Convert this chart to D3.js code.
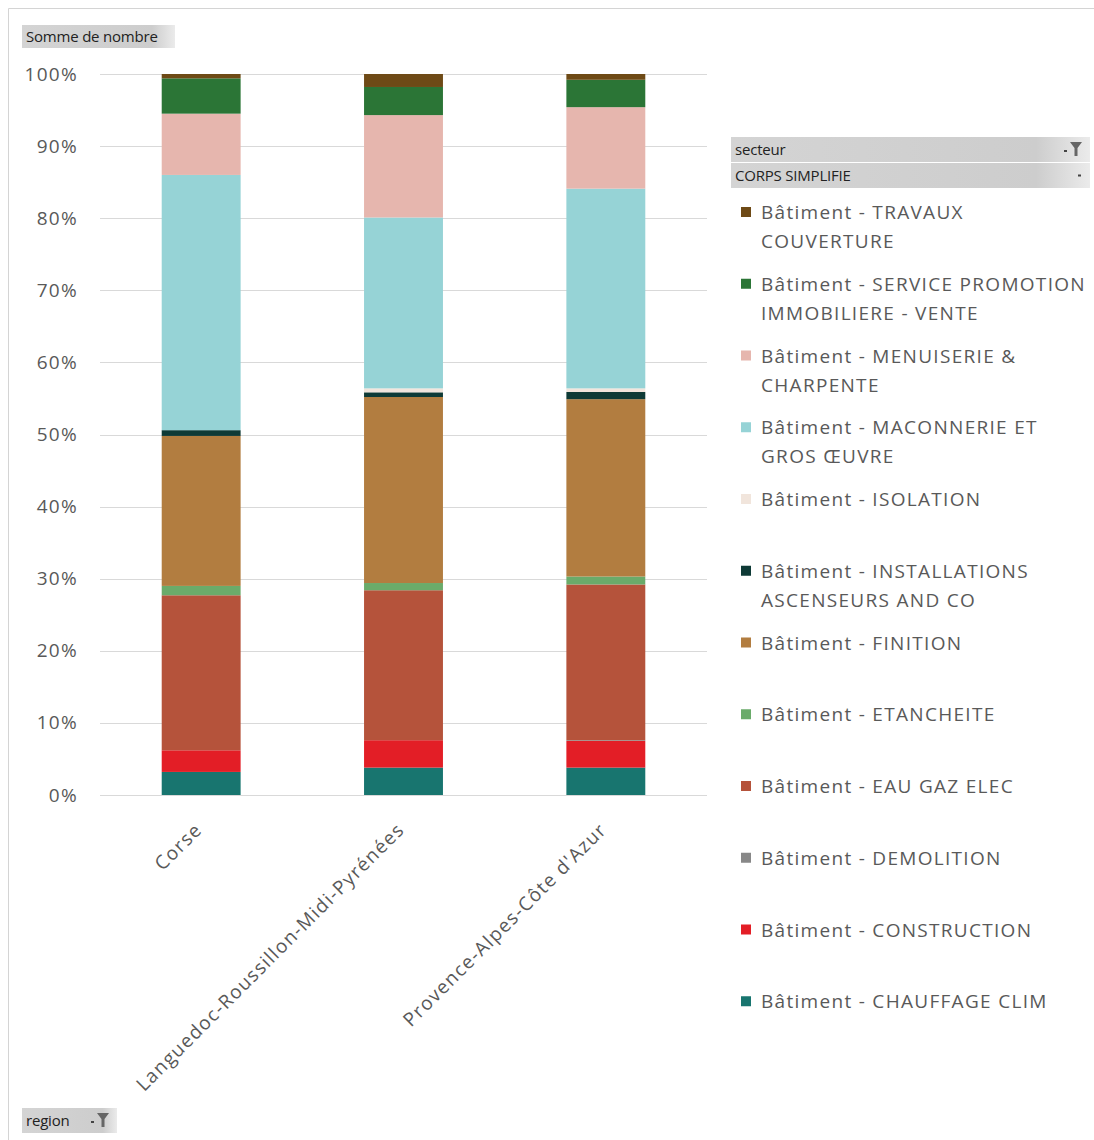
<!DOCTYPE html>
<html><head><meta charset="utf-8">
<script src="https://cdn.jsdelivr.net/npm/d3@7"></script>
<style>
body{margin:0;background:#fff;}
svg{display:block;font-family:"Open Sans",sans-serif;}
</style></head>
<body><svg id="c" width="1094" height="1140"></svg>
<script>
const regions = ["Corse", "Languedoc-Roussillon-Midi-Pyrénées", "Provence-Alpes-Côte d'Azur"];
// series in stacking order (bottom -> top), values in % per region
const seriesKeys = ["chauffage","construction","demolition","eauGaz","etancheite","finition","installations","isolation","maconnerie","menuiserie","service","travaux"];
const chauffage     = [3.2, 3.8, 3.8];
const construction  = [3.0, 3.8, 3.7];
const demolition    = [0.0, 0.0, 0.1];
const eauGaz        = [21.5, 20.8, 21.6];
const etancheite    = [1.3, 1.0, 1.1];
const finition      = [20.8, 25.8, 24.6];
const installations = [0.8, 0.65, 1.0];
const isolation     = [0.0, 0.55, 0.5];
const maconnerie    = [35.4, 23.7, 27.7];
const menuiserie    = [8.5, 14.2, 11.3];
const service       = [4.9, 3.9, 3.8];
const travaux       = [0.6, 1.8, 0.8];
const seriesLabels = {
  travaux: ["Bâtiment - TRAVAUX", "COUVERTURE"],
  service: ["Bâtiment - SERVICE PROMOTION", "IMMOBILIERE - VENTE"],
  menuiserie: ["Bâtiment - MENUISERIE &", "CHARPENTE"],
  maconnerie: ["Bâtiment - MACONNERIE ET", "GROS ŒUVRE"],
  isolation: ["Bâtiment - ISOLATION"],
  installations: ["Bâtiment - INSTALLATIONS", "ASCENSEURS AND CO"],
  finition: ["Bâtiment - FINITION"],
  etancheite: ["Bâtiment - ETANCHEITE"],
  eauGaz: ["Bâtiment - EAU GAZ ELEC"],
  demolition: ["Bâtiment - DEMOLITION"],
  construction: ["Bâtiment - CONSTRUCTION"],
  chauffage: ["Bâtiment - CHAUFFAGE CLIM"]
};
const colors = {
  chauffage:"#18756f", construction:"#e31e26", demolition:"#888888", eauGaz:"#b5533b",
  etancheite:"#6aab6a", finition:"#b27d40", installations:"#0e3a36", isolation:"#f1e5dc",
  maconnerie:"#96d3d6", menuiserie:"#e6b6ae", service:"#2b7536", travaux:"#6e4a16"
};
const yTicks = [0,10,20,30,40,50,60,70,80,90,100];

const values = {chauffage,construction,demolition,eauGaz,etancheite,finition,installations,isolation,maconnerie,menuiserie,service,travaux};
const table = regions.map((r,i)=>{const o={region:r}; seriesKeys.forEach(k=>o[k]=values[k][i]); return o;});

const svg = d3.select("#c");
// outer chart border (top + left)
svg.append("line").attr("x1",8.5).attr("x2",1094).attr("y1",8.5).attr("y2",8.5).attr("stroke","#d4d4d4");
svg.append("line").attr("x1",8.5).attr("x2",8.5).attr("y1",8.5).attr("y2",1140).attr("stroke","#d4d4d4");

const x = d3.scaleBand().domain(regions).range([100,707]).paddingInner(0.61).paddingOuter(0.305);
const y = d3.scaleLinear().domain([0,100]).range([795,74]);

const txtStyle = sel => sel.attr("fill","#595959").style("font-size","19px")
  .style("font-family","Open Sans").style("letter-spacing","1.3px");

// grid
svg.append("g").selectAll("line").data(yTicks).join("line")
  .attr("x1",100).attr("x2",707).attr("y1",d=>Math.round(y(d))+0.5).attr("y2",d=>Math.round(y(d))+0.5)
  .attr("stroke","#d9d9d9").attr("stroke-width",1);

// y axis
const ya = svg.append("g").attr("transform","translate(100,0)")
  .call(d3.axisLeft(y).tickValues(yTicks).tickFormat(d=>d+"%").tickSize(0).tickPadding(22));
ya.select(".domain").remove();
ya.selectAll("text").call(txtStyle);

// bars
const stack = d3.stack().keys(seriesKeys)(table);
svg.append("g").selectAll("g").data(stack).join("g").attr("fill",d=>colors[d.key])
  .selectAll("rect").data(d=>d).join("rect")
  .attr("x",d=>x(d.data.region)).attr("width",x.bandwidth())
  .attr("y",d=>y(d[1])).attr("height",d=>Math.max(0,y(d[0])-y(d[1])));

// x axis labels
const xa = svg.append("g").attr("transform","translate(0,795)")
  .call(d3.axisBottom(x).tickSize(0).tickPadding(0));
xa.select(".domain").remove();
xa.selectAll("text").call(txtStyle)
  .attr("text-anchor","end").attr("dy",0).attr("y",0)
  .attr("transform","translate(2,36) rotate(-45)");

// legend (top -> bottom)
const legendOrder = seriesKeys.slice().reverse();
const lg = svg.append("g");
legendOrder.forEach((k,i)=>{
  const cy = 212 + i*71.75;
  lg.append("rect").attr("x",741).attr("y",cy-5).attr("width",10).attr("height",10).attr("fill",colors[k]);
  seriesLabels[k].forEach((line,j)=>{
    lg.append("text").attr("x",761).attr("y",cy+7+j*29).text(line).call(txtStyle);
  });
});

// field buttons
const defs = svg.append("defs");
const gr = defs.append("linearGradient").attr("id","btn").attr("x1",0).attr("x2",1).attr("y1",0).attr("y2",0);
gr.append("stop").attr("offset","0%").attr("stop-color","#d4d4d4");
gr.append("stop").attr("offset","85%").attr("stop-color","#cdcdcd");
gr.append("stop").attr("offset","100%").attr("stop-color","#ebebeb");
function button(x0,y0,w,h,label,icon){
  svg.append("rect").attr("x",x0).attr("y",y0).attr("width",w).attr("height",h).attr("fill","url(#btn)");
  svg.append("text").attr("x",x0+4).attr("y",y0+h/2+5).text(label)
    .attr("fill","#222").style("font-size","15px").style("letter-spacing","-0.2px");
  if(icon==="filter"){
    const ix=x0+w-14, iy=y0+5;
    svg.append("path").attr("d",`M${ix-6},${iy} h12 l-4.5,6 v8 h-3 v-8 z`).attr("fill","#666");
    svg.append("rect").attr("x",ix-12).attr("y",iy+8).attr("width",3).attr("height",2).attr("fill","#444");
  } else if(icon==="arrow"){
    svg.append("rect").attr("x",x0+w-12).attr("y",y0+h/2-1).attr("width",3).attr("height",2).attr("fill","#444");
  }
}
button(22,25,153,23,"Somme de nombre");
button(731,137,359,25,"secteur","filter");
button(731,163,359,25,"CORPS SIMPLIFIE","arrow");
button(22,1108,95,25,"region","filter");
</script></body></html>
